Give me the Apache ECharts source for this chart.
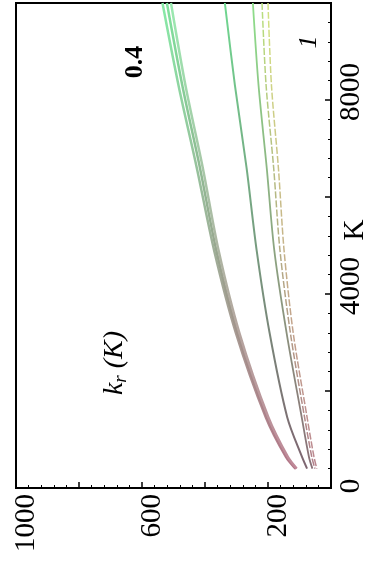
<!DOCTYPE html>
<html>
<head>
<meta charset="utf-8">
<script src="https://cdn.jsdelivr.net/npm/echarts@6/dist/echarts.min.js"></script>
<style>
html, body { margin: 0; padding: 0; background: #fff; }
#main { width: 367px; height: 563px; }
</style>
</head>
<body>
<div id="main"></div>
<script>
// K levels (vertical axis of the rotated figure)
var kLevels = [10000, 8300, 6600, 4900, 3200, 1460, 640, 400];
// k_r values of each curve, read at the K levels above
var curve1a = [535, 484, 426, 371, 302, 207, 143, 113];
var curve1b = [521, 472, 416, 364, 297, 203, 140, 111];
var curve1c = [508, 462, 407, 357, 291, 199, 137, 109];
var curve2 = [337, 305, 268, 236, 195, 139, 92, 76];
var curve3 = [248, 230, 204, 180, 141, 93, 70, 59];
var curve4 = [219, 206, 182, 162, 129, 84, 61, 51];
var curve5 = [200, 189, 167, 149, 120, 76, 54, 45];

var kLabels = [0, 4000, 8000];
var krLabels = [200, 600, 1000];

var serif = 'Liberation Serif';

function grad(top, bottom) {
	return new echarts.graphic.LinearGradient(0, 0, 0, 1, [
		{offset: 0, color: top},
		{offset: 1, color: bottom}
	]);
}

function makeLine(vals, top, bottom, width, dashed) {
	return {
		type: 'line',
		smooth: 0.3,
		showSymbol: false,
		silent: true,
		data: kLevels.map(function(k, i) { return [vals[i], k]; }),
		lineStyle: {color: grad(top, bottom), width: width, type: dashed ? [7, 2] : 'solid'}
	};
}

var chart = echarts.init(document.getElementById('main'));
chart.setOption({
	animation: false,
	backgroundColor: '#fff',
	grid: {left: 16, right: 36, top: 2, bottom: 75, show: true, borderColor: '#000', borderWidth: 2},
	xAxis: {
		type: 'value', min: 0, max: 1000, interval: 200, inverse: true, position: 'bottom',
		axisLine: {lineStyle: {color: '#000', width: 2}},
		axisTick: {inside: true, length: 6, lineStyle: {color: '#000', width: 1.5}},
		minorTick: {show: true, splitNumber: 5, length: 3, lineStyle: {color: '#000'}},
		splitLine: {show: false},
		axisLabel: {
			rotate: 90, margin: 6, color: '#000',
			formatter: function(v) { return krLabels.indexOf(v) >= 0 ? '{r|' + v + '}' : ''; },
			rich: {
				r: {fontSize: 29, fontFamily: serif, color: '#000', padding: [20, 0, 0, 0]}
			}
		}
	},
	yAxis: {
		type: 'value', min: 0, max: 10000, interval: 2000, position: 'right',
		axisLine: {lineStyle: {color: '#000', width: 2}},
		axisTick: {inside: true, length: 6, lineStyle: {color: '#000', width: 1.5}},
		minorTick: {show: true, splitNumber: 5, length: 3, lineStyle: {color: '#000'}},
		splitLine: {show: false},
		axisLabel: {
			rotate: 90, margin: 6, color: '#000',
			formatter: function(v) {
				if (kLabels.indexOf(v) < 0) return '';
				return v === 0 ? '{z|0}' : '{u|' + v + '}';
			},
			rich: {
				z: {fontSize: 29, fontFamily: serif, color: '#000', padding: [0, 0, 0, 4]},
				u: {fontSize: 29, fontFamily: serif, color: '#000', padding: [0, 0, 0, 16]}
			}
		}
	},
	series: [
		makeLine(curve1a, '#86eaa6', '#b67a8c', 2.5),
		makeLine(curve1b, '#7ee29c', '#b07284', 2.5),
		makeLine(curve1c, '#9aeab0', '#c08898', 2.5),
		makeLine(curve2, '#6fd890', '#7e6470', 2),
		makeLine(curve3, '#8ede8a', '#8a7078', 1.8),
		makeLine(curve4, '#b8e07e', '#b07e8a', 1.5, true),
		makeLine(curve5, '#d2e482', '#bb8690', 1.5, true)
	],
	graphic: [
		{type: 'text', x: 135, y: 62, rotation: Math.PI / 2,
			style: {text: '0.4', fontSize: 26, fontWeight: 'bold', fontFamily: serif, fill: '#000', align: 'center', verticalAlign: 'middle'}},
		{type: 'text', x: 309, y: 42, rotation: Math.PI / 2,
			style: {text: '1', fontSize: 26, fontStyle: 'italic', fontFamily: serif, fill: '#000', align: 'center', verticalAlign: 'middle'}},
		{type: 'text', x: 115, y: 363, rotation: Math.PI / 2,
			style: {
				text: '{i|k}{s|r}{i| (K)}', align: 'center', verticalAlign: 'middle',
				rich: {
					i: {fontSize: 28, fontStyle: 'italic', fontFamily: serif, fill: '#000', lineHeight: 30},
					s: {fontSize: 19, fontStyle: 'italic', fontFamily: serif, fill: '#000', lineHeight: 14, verticalAlign: 'bottom'}
				}
			}},
		{type: 'text', x: 355, y: 230, rotation: Math.PI / 2,
			style: {text: 'K', fontSize: 29, fontFamily: serif, fill: '#000', align: 'center', verticalAlign: 'middle'}}
	]
});
</script>
</body>
</html>
